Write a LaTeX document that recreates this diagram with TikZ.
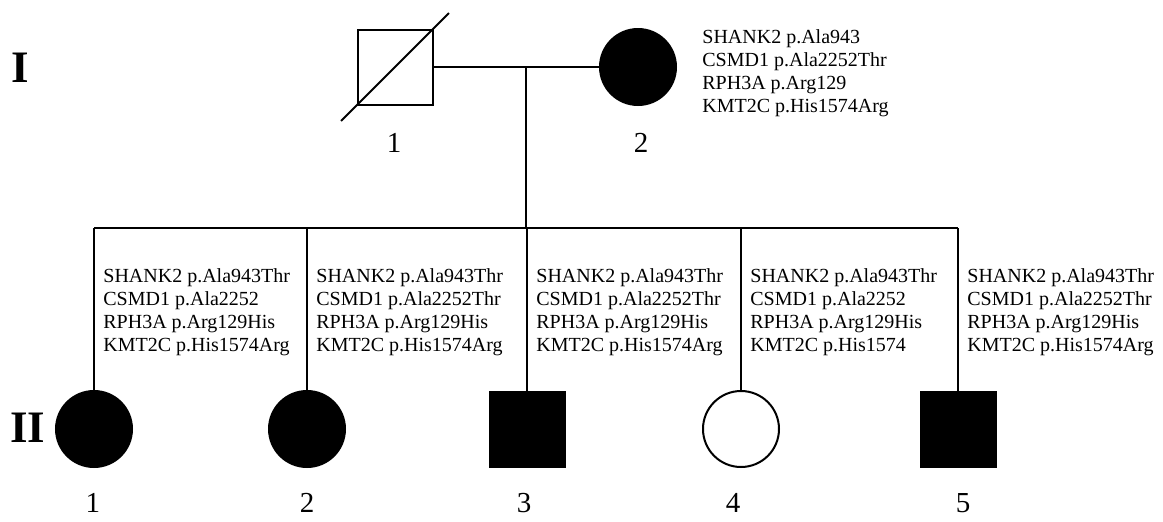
\documentclass[tikz,border=0pt]{standalone}
\usepackage{fontspec}
\setmainfont{Liberation Serif}
\usetikzlibrary{calc}

\tikzset{
  male/.style={draw, rectangle, minimum size=37.5pt, inner sep=0pt, line width=1pt},
  female/.style={draw, circle, minimum size=38pt, inner sep=0pt, line width=1pt},
  affected/.style={fill=black},
  unaffected/.style={fill=white},
  kin/.style={line width=1pt},
  variants/.style={anchor=north west, align=left, inner sep=0pt,
    font=\fontsize{10}{11.5}\selectfont},
  number/.style={inner sep=0pt, font=\fontsize{14.5}{14.5}\selectfont},
  generation/.style={inner sep=0pt, font=\fontsize{22.5}{22.5}\selectfont\bfseries},
}

\begin{document}
\begin{tikzpicture}[x=0.5pt, y=-0.5pt]
    \useasboundingbox (0,0) rectangle (1163,521);

    \def\yOne{67}% generation I
    \def\yTwo{429}% generation II
    \def\ySib{228}% sibship line
    \def\xMate{526}% descent line

    % Generation labels
    \node[generation] (genI) at (20,68) {I};
    \node[generation] (genII) at (28,428) {II};

    % Generation I
    \node[male] (I1) at (395,\yOne) {};
    \node[female, affected] (I2) at (638,\yOne) {};
    \draw[kin] ($(I1.south west)!-0.2!(I1.north east)$) -- ($(I1.south west)!1.2!(I1.north east)$);
    \node[number] (nI1) at (394,143) {1};
    \node[number] (nI2) at (641,143) {2};
    \node[variants] (vI2) at (702,29) {SHANK2 p.Ala943\\CSMD1 p.Ala2252Thr\\RPH3A p.Arg129\\KMT2C p.His1574Arg};

    % Mating and descent
    \coordinate (mate) at (\xMate,\yOne);
    \coordinate (sib) at (\xMate,\ySib);
    \draw[kin] (I1) -- (I2);
    \draw[kin] (mate) -- (sib);

    % Generation II
    \foreach \n/\x/\nx/\shp/\st/\txt in {
      1/94/93/female/affected/{SHANK2 p.Ala943Thr\\CSMD1 p.Ala2252\\RPH3A p.Arg129His\\KMT2C p.His1574Arg},
      2/307/307/female/affected/{SHANK2 p.Ala943Thr\\CSMD1 p.Ala2252Thr\\RPH3A p.Arg129His\\KMT2C p.His1574Arg},
      3/527/524/male/affected/{SHANK2 p.Ala943Thr\\CSMD1 p.Ala2252Thr\\RPH3A p.Arg129His\\KMT2C p.His1574Arg},
      4/741/733/female/unaffected/{SHANK2 p.Ala943Thr\\CSMD1 p.Ala2252\\RPH3A p.Arg129His\\KMT2C p.His1574},
      5/958/963/male/affected/{SHANK2 p.Ala943Thr\\CSMD1 p.Ala2252Thr\\RPH3A p.Arg129His\\KMT2C p.His1574Arg}}
    {
        \node[\shp, \st] (II\n) at (\x,\yTwo) {};
        \node[number] (nII\n) at (\nx,503) {\n};
        \node[variants] (vII\n) at (\x+9,268) {\txt};
        \draw[kin] (II\n |- sib) -- (II\n.north);
    }
    \draw[kin] (II1 |- sib) -- (II5 |- sib);
\end{tikzpicture}
\end{document}
